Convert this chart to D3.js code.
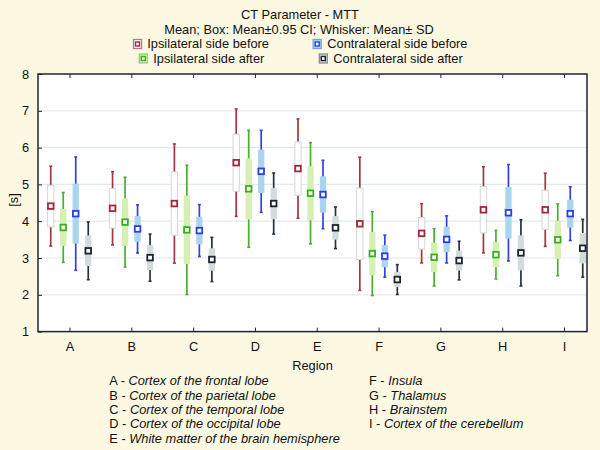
<!DOCTYPE html>
<html>
<head>
<meta charset="utf-8">
<script src="https://cdn.jsdelivr.net/npm/d3@7"></script>
<style>
  html, body { margin: 0; padding: 0; background: #fcf8e2; }
  svg { display: block; }
  text { font-family: "Liberation Sans", Arial, sans-serif; fill: #111; }
</style>
</head>
<body>
<svg id="chart" width="600" height="450"></svg>
<script>
// ---------- data ----------
const categories = ["A", "B", "C", "D", "E", "F", "G", "H", "I"];
const yTicks = [1, 2, 3, 4, 5, 6, 7, 8];
const seriesNames = ["Ipsilateral side before", "Ipsilateral side after", "Contralateral side before", "Contralateral side after"];

// Ipsilateral side before
const ipsiBeforeMean = [4.41, 4.35, 4.48, 5.59, 5.43, 3.93, 3.67, 4.31, 4.31];
const ipsiBeforeCI   = [0.565, 0.535, 0.86, 0.775, 0.725, 0.97, 0.43, 0.63, 0.53];
const ipsiBeforeSD   = [1.085, 0.995, 1.62, 1.46, 1.35, 1.81, 0.805, 1.17, 0.995];
// Ipsilateral side after
const ipsiAfterMean = [3.83, 3.975, 3.765, 4.88, 4.76, 3.12, 3.02, 3.09, 3.495];
const ipsiAfterCI   = [0.50, 0.645, 0.93, 0.83, 0.735, 0.59, 0.40, 0.34, 0.515];
const ipsiAfterSD   = [0.95, 1.22, 1.755, 1.59, 1.375, 1.14, 0.78, 0.66, 0.975];
// Contralateral side before
const contraBeforeMean = [4.205, 3.79, 3.745, 5.355, 4.725, 3.05, 3.505, 4.23, 4.205];
const contraBeforeCI   = [0.815, 0.35, 0.375, 0.59, 0.495, 0.30, 0.345, 0.70, 0.38];
const contraBeforeSD   = [1.54, 0.655, 0.705, 1.115, 0.93, 0.57, 0.64, 1.31, 0.73];
// Contralateral side after
const contraAfterMean = [3.195, 3.01, 2.96, 4.48, 3.82, 2.415, 2.93, 3.14, 3.265];
const contraAfterCI   = [0.415, 0.34, 0.305, 0.425, 0.32, 0.205, 0.27, 0.475, 0.415];
const contraAfterSD   = [0.785, 0.64, 0.60, 0.83, 0.565, 0.405, 0.525, 0.90, 0.785];

const footLeft = [["A", "Cortex of the frontal lobe"], ["B", "Cortex of the parietal lobe"], ["C", "Cortex of the temporal lobe"], ["D", "Cortex of the occipital lobe"], ["E", "White matter of the brain hemisphere"]];
const footRight = [["F", "Insula"], ["G", "Thalamus"], ["H", "Brainstem"], ["I", "Cortex of the cerebellum"]];

// ---------- styles ----------
const styles = [
  { mean: ipsiBeforeMean, ci: ipsiBeforeCI, sd: ipsiBeforeSD, whisker: "#a53540", box: "#ffffff", boxStroke: "#d6d6d6", marker: "#a3263a", legStroke: "#b07a88" },
  { mean: ipsiAfterMean, ci: ipsiAfterCI, sd: ipsiAfterSD, whisker: "#46b22c", box: "#d5f0b2", boxStroke: "none", marker: "#38b01c", legStroke: "#7fe05e" },
  { mean: contraBeforeMean, ci: contraBeforeCI, sd: contraBeforeSD, whisker: "#3440dc", box: "#a9d6ee", boxStroke: "none", marker: "#2a3fe6", legStroke: "#7a9cf2" },
  { mean: contraAfterMean, ci: contraAfterCI, sd: contraAfterSD, whisker: "#273040", box: "#d3dbdb", boxStroke: "none", marker: "#1c2430", legStroke: "#8a9090" }
];

const FS = "12.8px";
const svg = d3.select("#chart");

const pLeft = 38, pRight = 587, pTop = 74, pBottom = 331.6;
const x = d3.scalePoint().domain(categories).range([69.5, 564]);
const y = d3.scaleLinear().domain([1, 8]).range([pBottom, pTop]);
const offsets = [-18.75, -6.25, 6.25, 18.75];
const boxW = 6.3, capW = 3, mk = 5.6;

// plot area
svg.append("rect").attr("x", pLeft).attr("y", pTop).attr("width", pRight - pLeft).attr("height", pBottom - pTop).attr("fill", "#ffffff");

// gridlines
svg.append("g").selectAll("line").data(yTicks.filter(t => t > 1 && t < 8)).join("line")
  .attr("x1", pLeft).attr("x2", pRight).attr("y1", d => y(d)).attr("y2", d => y(d))
  .attr("stroke", "#e3eaed").attr("stroke-width", 1.2);

// boxes
styles.forEach((s, si) => {
  const g = svg.append("g");
  categories.forEach((c, i) => {
    const cx = x(c) + offsets[si];
    const m = s.mean[i], ci = s.ci[i], sd = s.sd[i];
    g.append("line").attr("x1", cx).attr("x2", cx).attr("y1", y(m + sd)).attr("y2", y(m - sd))
      .attr("stroke", s.whisker).attr("stroke-width", 1.7);
    [m + sd, m - sd].forEach(v => g.append("line").attr("x1", cx - capW / 2).attr("x2", cx + capW / 2)
      .attr("y1", y(v)).attr("y2", y(v)).attr("stroke", s.whisker).attr("stroke-width", 1.6));
    g.append("rect").attr("x", cx - boxW / 2).attr("width", boxW)
      .attr("y", y(m + ci)).attr("height", y(m - ci) - y(m + ci))
      .attr("fill", s.box).attr("stroke", s.boxStroke).attr("stroke-width", 1);
    g.append("rect").attr("x", cx - mk / 2).attr("y", y(m) - mk / 2).attr("width", mk).attr("height", mk)
      .attr("fill", "#ffffff").attr("stroke", s.marker).attr("stroke-width", 1.8);
  });
});

// axes
const yAxis = d3.axisLeft(y).tickValues(yTicks).tickSize(-4).tickPadding(9).tickFormat(d3.format("d"));
const ya = svg.append("g").attr("transform", `translate(${pLeft},0)`).call(yAxis);
const xAxisB = d3.axisBottom(x).tickSize(-4).tickPadding(10);
const xb = svg.append("g").attr("transform", `translate(0,${pBottom})`).call(xAxisB);
const xAxisT = d3.axisTop(x).tickSize(-4).tickFormat("");
const xt = svg.append("g").attr("transform", `translate(0,${pTop})`).call(xAxisT);
[ya, xb, xt].forEach(a => {
  a.select(".domain").remove();
  a.selectAll(".tick line").attr("stroke", "#1c2434").attr("stroke-width", 1);
  a.selectAll(".tick text").style("font-size", FS).attr("fill", "#111");
});
// frame
svg.append("rect").attr("x", pLeft).attr("y", pTop).attr("width", pRight - pLeft).attr("height", pBottom - pTop)
  .attr("fill", "none").attr("stroke", "#1c2434").attr("stroke-width", 1.5);

// titles
svg.append("text").attr("x", 300).attr("y", 15).attr("dy", "0.35em").attr("text-anchor", "middle").style("font-size", FS).text("CT Parameter - MTT");
svg.append("text").attr("x", 299).attr("y", 29.5).attr("dy", "0.35em").attr("text-anchor", "middle").style("font-size", FS).text("Mean; Box: Mean\u00b10.95 CI; Whisker: Mean\u00b1 SD");

// legend
const legPos = [
  { ix: 133.5, iy: 44, tx: 147.3 },
  { ix: 139.3, iy: 58.5, tx: 153.3 },
  { ix: 313.2, iy: 44, tx: 327.3 },
  { ix: 319.3, iy: 58.5, tx: 333.3 }
];
styles.forEach((s, si) => {
  const p = legPos[si];
  svg.append("rect").attr("x", p.ix).attr("y", p.iy - 4.5).attr("width", 8).attr("height", 9)
    .attr("fill", s.box).attr("stroke", s.legStroke).attr("stroke-width", 1.3);
  svg.append("rect").attr("x", p.ix + 2).attr("y", p.iy - 2).attr("width", 4).attr("height", 4)
    .attr("fill", "#ffffff").attr("stroke", s.marker).attr("stroke-width", 1.4);
  svg.append("text").attr("x", p.tx).attr("y", p.iy).attr("dy", "0.35em").style("font-size", FS).text(seriesNames[si]);
});

// axis titles
svg.append("text").attr("x", 312.5).attr("y", 366).attr("dy", "0.35em").attr("text-anchor", "middle").style("font-size", FS).text("Region");
svg.append("text").attr("transform", "translate(14,200) rotate(-90)").attr("dy", "0.35em").attr("text-anchor", "middle").style("font-size", FS).text("[s]");

// footnotes
const lineY = [381, 395.3, 409.7, 424, 438.3];
function foot(list, x0) {
  list.forEach((d, i) => {
    const t = svg.append("text").attr("x", x0).attr("y", lineY[i]).attr("dy", "0.35em").style("font-size", FS);
    t.append("tspan").text(d[0] + " - ");
    t.append("tspan").style("font-style", "italic").text(d[1]);
  });
}
foot(footLeft, 109.3);
foot(footRight, 369);
</script>
</body>
</html>
